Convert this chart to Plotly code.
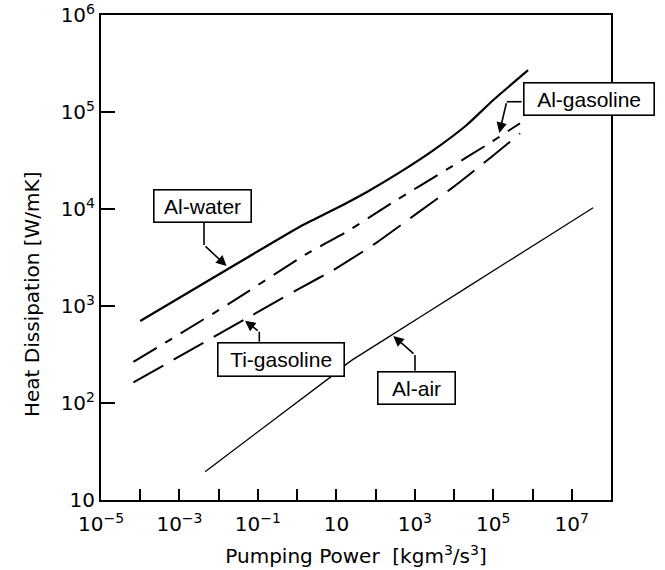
import numpy as np
import plotly.graph_objects as go

# Heat dissipation per unit length vs. pumping power for four coolant/fin combinations
al_water_power = [1e-4, 0.042, 1.2, 8.4, 60, 420, 3000, 2.1e4, 1e5, 7.7e5]
al_water_heat = [700, 2980, 6600, 9800, 15000, 24000, 40500, 73500, 1.33e5, 2.7e5]

al_gasoline_power = [6.7e-5, 0.018, 1.75, 18, 345, 4800, 8.2e4, 4.8e5]
al_gasoline_heat = [265, 1050, 3450, 5800, 12400, 23700, 48000, 76500]

ti_gasoline_power = [6.7e-5, 0.047, 1.3, 8.4, 97, 1000, 9500, 9.1e4, 4.8e5]
ti_gasoline_heat = [163, 730, 1560, 2350, 4400, 8700, 16800, 34600, 60000]

al_air_power = [4.5e-3, 8.4, 22, 160, 2.0e4, 2.8e6, 3.5e7]
al_air_heat = [19.6, 195, 267, 445, 1530, 5400, 10300]

x_exponents = list(range(-5, 9))
y_exponents = list(range(1, 7))


def power_label(k):
    if k == 1:
        return "10"
    return "10<sup>" + str(k).replace("-", "\u2212") + "</sup>"


x_tick_text = [power_label(k) if k % 2 else "" for k in x_exponents]
y_tick_text = [power_label(k) for k in y_exponents]

LABEL_FONT = "Liberation Sans, Arial, Helvetica, sans-serif"
AXIS_FONT = "DejaVu Sans, Verdana, sans-serif"

fig = go.Figure()

series = [
    ("Al-water", al_water_power, al_water_heat,
     dict(color="black", width=2.2, shape="spline", smoothing=0.5)),
    ("Al-gasoline", al_gasoline_power, al_gasoline_heat,
     dict(color="black", width=2, dash="27px,10px,8px,10px", shape="spline", smoothing=0.5)),
    ("Ti-gasoline", ti_gasoline_power, ti_gasoline_heat,
     dict(color="black", width=2, dash="34px,12px", shape="spline", smoothing=0.5)),
    ("Al-air", al_air_power, al_air_heat,
     dict(color="black", width=1.3, shape="spline", smoothing=0.5)),
]
for name, xs, ys, line in series:
    fig.add_trace(go.Scatter(x=xs, y=ys, mode="lines", name=name, line=line,
                             showlegend=False, hoverinfo="x+y+name"))


def log_interp(xs, ys, lx):
    return float(np.interp(lx, np.log10(xs), np.log10(ys)))


# label boxes: text, centre (log x, log y), size, box anchor, elbow, tip x, tip offset (log units)
callouts = [
    ("Al-water", (-2.41, 4.036), 92, 27, (-2.374, 3.859), (-2.374, 3.629), -1.80, 0.04,
     al_water_power, al_water_heat),
    ("Al-gasoline", (7.445, 5.129), 125, 27, (5.724, 5.106), (5.342, 5.106), 5.153, 0.04,
     al_gasoline_power, al_gasoline_heat),
    ("Ti-gasoline", (-0.407, 2.452), 121, 28, (-0.965, 2.632), (-0.965, 2.735), -1.33, -0.015,
     ti_gasoline_power, ti_gasoline_heat),
    ("Al-air", (3.042, 2.155), 72, 27, (3.004, 2.333), (3.004, 2.495), 2.451, -0.02,
     al_air_power, al_air_heat),
]

for text, (cx, cy), w, h, (bx, by), (ex, ey), tx, off, xs, ys in callouts:
    ty = log_interp(xs, ys, tx) + off
    # straight leader from the box to the elbow
    fig.add_shape(type="line", xref="x", yref="y",
                  x0=10 ** bx, y0=10 ** by, x1=10 ** ex, y1=10 ** ey,
                  line=dict(color="black", width=1.6))
    # arrow from the elbow to the curve
    fig.add_annotation(x=tx, y=ty, ax=ex, ay=ey, xref="x", yref="y",
                       axref="x", ayref="y", text="", showarrow=True,
                       arrowhead=2, arrowsize=1.3, arrowwidth=1.6,
                       arrowcolor="black", standoff=0, startstandoff=0)
    # label box
    fig.add_annotation(x=cx, y=cy, xref="x", yref="y", text=text,
                       showarrow=False, width=w, height=h,
                       font=dict(family=LABEL_FONT, size=21, color="black"),
                       bgcolor="white", bordercolor="black", borderwidth=1.6,
                       borderpad=2, align="center", valign="middle")

# vertical axis title, set a little below the middle of the axis
fig.add_annotation(text="Heat Dissipation [W/mK]", textangle=-90,
                   xref="paper", yref="paper", x=-0.135, y=0.425,
                   xanchor="center", yanchor="middle", showarrow=False,
                   font=dict(family=AXIS_FONT, size=20, color="black"))

axis_common = dict(
    type="log", showgrid=False, zeroline=False, showline=True, mirror=True,
    linecolor="black", linewidth=2, ticks="inside", tickcolor="black",
    tickwidth=1.5, tickfont=dict(family=AXIS_FONT, size=20, color="black"),
    automargin=False,
)

fig.update_xaxes(
    **axis_common, range=[-5, 8], ticklen=11, ticklabelstandoff=5,
    tickvals=[10.0 ** k for k in x_exponents], ticktext=x_tick_text,
    title=dict(text="Pumping Power\u00a0\u00a0[kgm<sup>3</sup>/s<sup>3</sup>]",
               font=dict(family=AXIS_FONT, size=20, color="black"), standoff=14),
)
fig.update_yaxes(
    **axis_common, range=[1, 6], ticklen=14,
    tickvals=[10.0 ** k for k in y_exponents], ticktext=y_tick_text,
)

fig.update_layout(
    width=665, height=570,
    margin=dict(l=101, r=54, t=15, b=70),
    paper_bgcolor="white", plot_bgcolor="white",
    font=dict(family=AXIS_FONT, color="black"),
)

fig.write_html("out.html")
